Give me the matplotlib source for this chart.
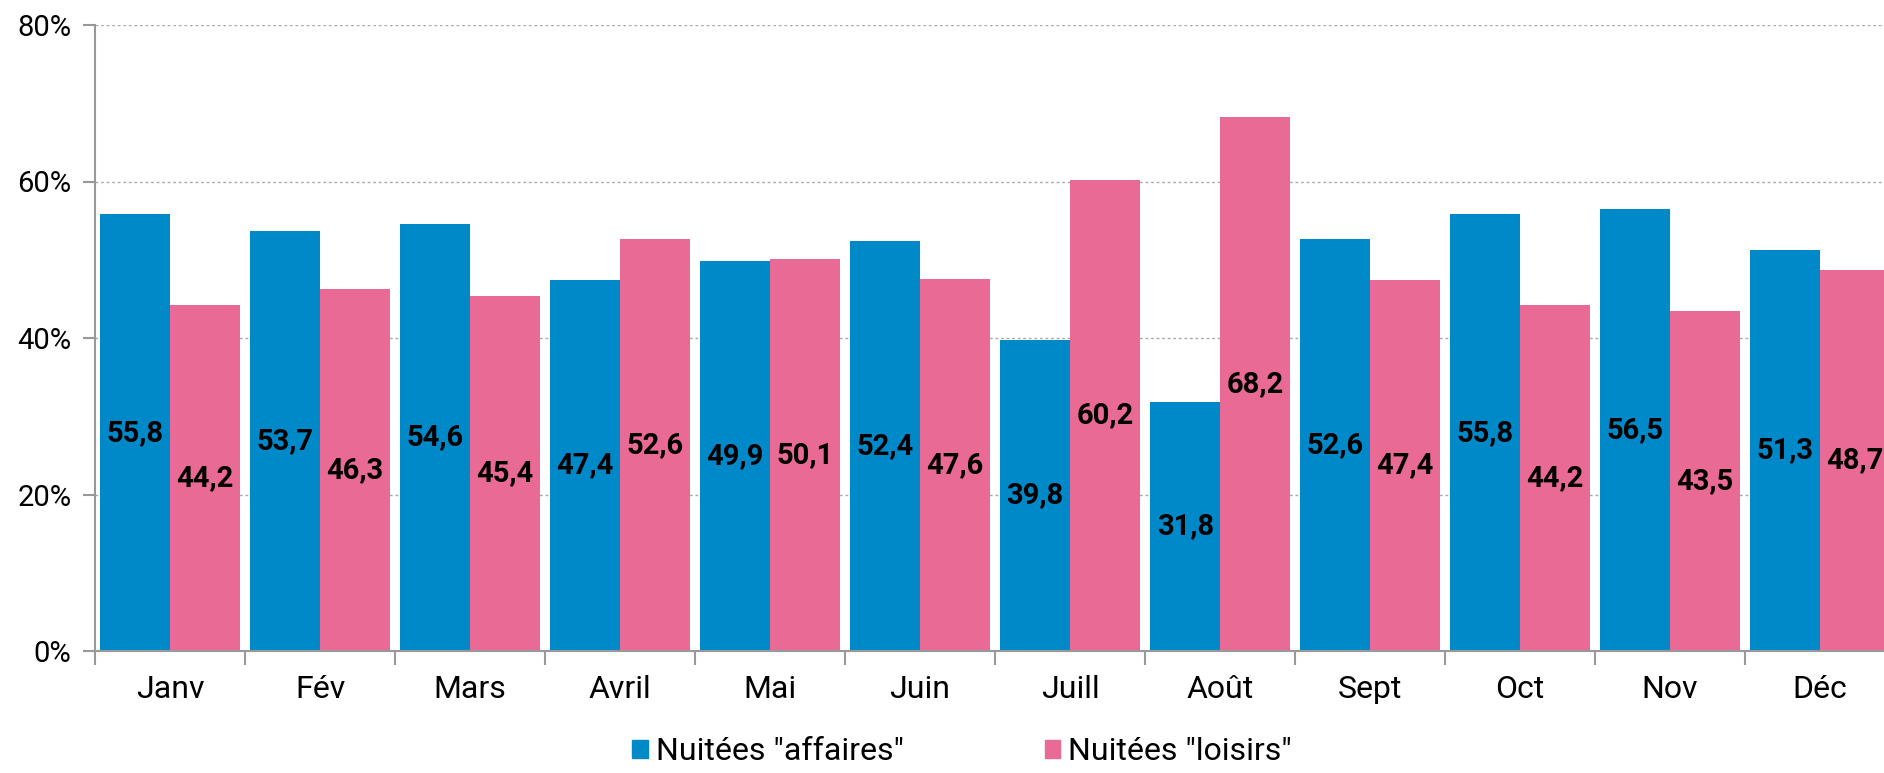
import matplotlib
matplotlib.use('Agg')
import matplotlib.pyplot as plt
import numpy as np
from matplotlib.patches import Patch

plt.rcParams['font.family'] = ['Roboto', 'DejaVu Sans']

# Data
months = ['Janv', 'Fév', 'Mars', 'Avril', 'Mai', 'Juin', 'Juill', 'Août', 'Sept', 'Oct', 'Nov', 'Déc']
affaires = [55.8, 53.7, 54.6, 47.4, 49.9, 52.4, 39.8, 31.8, 52.6, 55.8, 56.5, 51.3]
loisirs = [44.2, 46.3, 45.4, 52.6, 50.1, 47.6, 60.2, 68.2, 47.4, 44.2, 43.5, 48.7]
y_ticks = [0, 20, 40, 60, 80]

blue = '#0089C9'
pink = '#E96A94'

fig = plt.figure(figsize=(18.84, 7.73), dpi=100)
# axes runs past the right edge like in the original
ax = fig.add_axes([95 / 1884, 122 / 773, 1800 / 1884, 626 / 773])

x = np.arange(len(months))
w = 0.464
b1 = ax.bar(x - w / 2, affaires, width=w, color=blue, edgecolor='none', zorder=2)
b2 = ax.bar(x + w / 2, loisirs, width=w, color=pink, edgecolor='none', zorder=2)

# value labels in the middle of each bar
for bars, vals in [(b1, affaires), (b2, loisirs)]:
    for rect, v in zip(bars, vals):
        ax.text(rect.get_x() + rect.get_width() / 2, v / 2,
                f'{v:.1f}'.replace('.', ','), ha='center', va='center',
                fontsize=21, fontweight='bold', color='black', zorder=3)

ax.set_xlim(-0.5, len(months) - 0.5)
ax.set_ylim(0, 80)
ax.set_yticks(y_ticks)
ax.set_yticklabels([f'{t}%' for t in y_ticks], fontsize=21)
ax.yaxis.grid(True, linestyle=(0, (2, 2)), color='#aaaaaa', linewidth=1, zorder=0)

# month labels centered, ticks at category boundaries
ax.set_xticks(x)
ax.set_xticklabels(months, fontsize=23)
ax.tick_params(axis='x', length=0, pad=17)
ax.set_xticks(np.arange(-0.5, len(months), 1), minor=True)
ax.tick_params(axis='x', which='minor', length=10, width=1.5, color='#999999', direction='out')
ax.tick_params(axis='y', length=9, width=1.5, color='#999999', pad=8)

for s in ['top', 'right']:
    ax.spines[s].set_visible(False)
for s in ['left', 'bottom']:
    ax.spines[s].set_color('#999999')
    ax.spines[s].set_linewidth(1.5)

handles = [Patch(color=blue, label='Nuitées "affaires"'),
           Patch(color=pink, label='Nuitées "loisirs"')]
fig.legend(handles=handles, loc='upper left', bbox_to_anchor=(632 / 1884, 1 - 737 / 773),
           ncol=2, frameon=False, fontsize=23, handlelength=0.5, handleheight=0.5,
           handletextpad=0.25, columnspacing=4.4, borderaxespad=0, borderpad=0)

fig.savefig('out.png', dpi=100)
